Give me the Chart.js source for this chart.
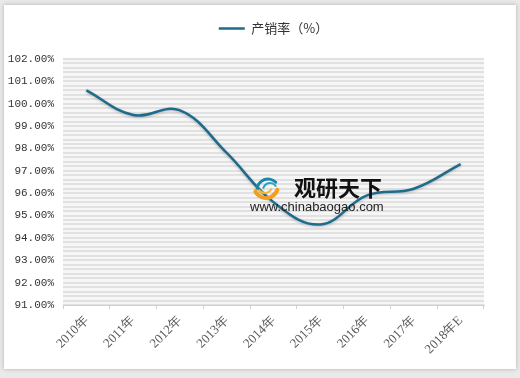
<!DOCTYPE html>
<html><head><meta charset="utf-8">
<script src="https://cdn.jsdelivr.net/npm/chart.js@4/dist/chart.umd.min.js"></script>
<style>
html,body{margin:0;padding:0;background:#e9e9e9;width:520px;height:378px;overflow:hidden}
#card{position:absolute;left:4px;top:5px;width:512px;height:364px;background:#fff;box-shadow:0 0 4px rgba(0,0,0,0.25)}
#wrap{position:absolute;left:0;top:0;width:520px;height:378px}
</style></head><body>
<div id="card"></div>
<div id="wrap"><canvas id="c" width="520" height="378"></canvas></div>
<script>
const categories = ["2010年","2011年","2012年","2013年","2014年","2015年","2016年","2017年","2018年E"];
const seriesName = "产销率（%）";
const rates = [100.6, 99.5, 99.7, 97.8, 95.6, 94.6, 95.9, 96.2, 97.3];
const yMin = 91, yMax = 102;

const bgPlugin = {
  id:'bg',
  afterInit(chart){
    const lg = chart.legend;
    if (lg) { const orig = lg.fit; lg.fit = function(){ orig.call(this); this.height += 14; }; }
  },
  beforeDraw(chart){
    const {ctx, chartArea:a} = chart;
    ctx.save();
    ctx.fillStyle = '#f6f6f6';
    ctx.fillRect(a.left, a.top, a.right-a.left, a.bottom-a.top);
    ctx.restore();
  }
};
const wmPlugin = {
  id:'wm',
  afterDatasetsDraw(chart){
    const ctx = chart.ctx;
    ctx.save();
    ctx.lineCap='round';
    ctx.strokeStyle='#1c86a8'; ctx.lineWidth=3;
    ctx.beginPath(); ctx.arc(268,190,11,Math.PI*1.05,Math.PI*1.75); ctx.stroke();
    ctx.strokeStyle='#2aa0c0'; ctx.lineWidth=2;
    ctx.beginPath(); ctx.arc(270,190,7,Math.PI*1.1,Math.PI*1.8); ctx.stroke();
    ctx.strokeStyle='#f0a020'; ctx.lineWidth=4;
    ctx.beginPath(); ctx.arc(266,186,12,Math.PI*0.1,Math.PI*0.85); ctx.stroke();
    ctx.strokeStyle='#f5b830'; ctx.lineWidth=2;
    ctx.beginPath(); ctx.arc(265,186,7,Math.PI*0.15,Math.PI*0.8); ctx.stroke();
    ctx.fillStyle='#111';
    ctx.font='bold 22px "Noto Sans CJK SC"';
    ctx.textBaseline='middle';
    ctx.fillText('观研天下', 294, 188);
    ctx.fillStyle='#222';
    ctx.font='13px "Liberation Sans"';
    ctx.fillText('www.chinabaogao.com', 250, 207);
    ctx.restore();
  }
};
const shadowPlugin = {
  id:'shadow',
  beforeDatasetDraw(chart){ const c=chart.ctx; c.save(); c.shadowColor='rgba(0,0,0,0.25)'; c.shadowBlur=3; c.shadowOffsetY=1; },
  afterDatasetDraw(chart){ chart.ctx.restore(); }
};

new Chart(document.getElementById('c'), {
  type:'line',
  data:{ labels:categories, datasets:[{label:seriesName, data:rates, borderColor:'#1e6b8c', backgroundColor:'#1e6b8c', borderWidth:2.5, pointRadius:0, tension:0.4, fill:false}]},
  options:{
    responsive:false, animation:false,
    layout:{padding:{left:0,right:36,top:8,bottom:0}},
    plugins:{
      legend:{position:'top', fullSize:false, labels:{usePointStyle:true, pointStyle:'line', pointStyleWidth:26, boxHeight:10, color:'#333', font:{family:'"Noto Sans CJK SC"', size:13}, padding:14}},
      tooltip:{enabled:false}
    },
    scales:{
      x:{
        offset:true,
        grid:{display:true, drawOnChartArea:false, drawTicks:true, tickLength:4, color:'#d0d0d0', offset:true},
        border:{color:'#d0d0d0'},
        ticks:{maxRotation:45, minRotation:45, color:'#595959', font:{family:'"Liberation Serif"', size:13}, padding:4, autoSkip:false},
        afterFit(s){ s.height = 73; }
      },
      y:{
        min:yMin, max:yMax,
        grid:{color:'#e1e1e1', lineWidth:2, drawTicks:false},
        border:{display:false},
        ticks:{stepSize:0.2, autoSkip:false, padding:9, color:'#333', font:{family:'"Liberation Mono"', size:11},
          callback(v){ const r=Math.round(v); return Math.abs(v-r)<1e-6 ? r.toFixed(2)+'%' : ''; }},
        afterFit(s){ s.width = 63; }
      }
    }
  },
  plugins:[bgPlugin, shadowPlugin, wmPlugin]
});
</script>
</body></html>
